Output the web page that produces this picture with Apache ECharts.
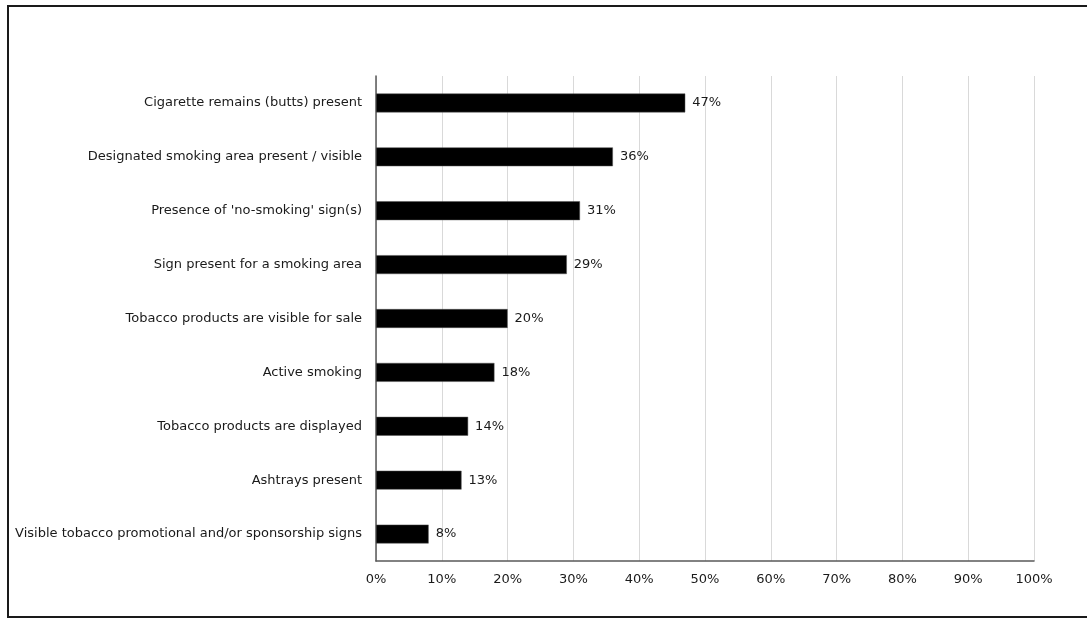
<!DOCTYPE html>
<html>
<head>
<meta charset="utf-8">
<script src="https://cdn.jsdelivr.net/npm/echarts@6/dist/echarts.min.js"></script>
<style>
  html, body { margin: 0; padding: 0; background: #fff; }
  .frame {
    position: absolute; left: 7px; top: 5px; width: 1090px; height: 613px;
    border: 2px solid #1a1a1a; border-right: none; box-sizing: border-box;
  }
  #chart { position: absolute; left: 0; top: 0; width: 1087px; height: 618px; }
</style>
</head>
<body>
<div class="frame"></div>
<div id="chart"></div>
<script>
const categories = [
  'Cigarette remains (butts) present',
  'Designated smoking area present / visible',
  "Presence of 'no-smoking' sign(s)",
  'Sign present for a smoking area',
  'Tobacco products are visible for sale',
  'Active smoking',
  'Tobacco products are displayed',
  'Ashtrays present',
  'Visible tobacco promotional and/or sponsorship signs'
];
const values = [47, 36, 31, 29, 20, 18, 14, 13, 8];

const chart = echarts.init(document.getElementById('chart'));

const option = {
  animation: false,
  textStyle: { fontFamily: 'DejaVu Sans' },
  grid: { left: 376, right: 53, top: 76, bottom: 57 },
  xAxis: {
    type: 'value',
    min: 0,
    max: 100,
    interval: 10,
    axisLine: { show: true, lineStyle: { color: '#595959', width: 1.5 } },
    axisTick: { show: false },
    axisLabel: { formatter: '{value}%', color: '#1a1a1a', fontSize: 13, margin: 12 },
    splitLine: { lineStyle: { color: '#d9d9d9', width: 1 } }
  },
  yAxis: {
    type: 'category',
    inverse: true,
    data: categories,
    axisLine: { lineStyle: { color: '#595959', width: 1.5 } },
    axisTick: { show: false },
    axisLabel: { color: '#1a1a1a', fontSize: 13, margin: 14 }
  },
  series: [{
    type: 'bar',
    data: values,
    barWidth: '35%',
    itemStyle: { color: '#000', borderColor: '#555', borderWidth: 0.5 },
    label: {
      show: true,
      position: 'right',
      distance: 7,
      formatter: '{c}%',
      color: '#1a1a1a',
      fontSize: 13
    }
  }]
};

chart.setOption(option);
</script>
</body>
</html>
